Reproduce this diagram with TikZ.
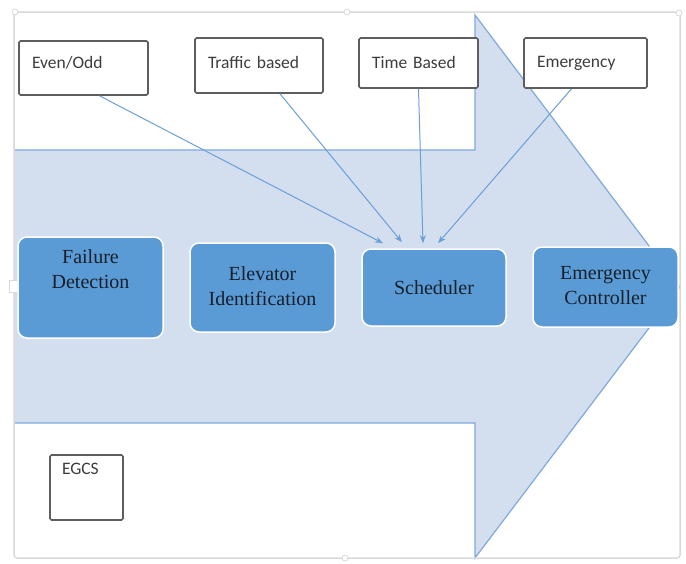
\documentclass[tikz,border=0pt]{standalone}
\usepackage{fontspec}
\setmainfont{Liberation Serif}
\newfontfamily\calfont{Carlito}
\usetikzlibrary{arrows.meta,calc}
\definecolor{arrowfill}{HTML}{D3DEEF}
\definecolor{arrowedge}{HTML}{7FA9DD}
\definecolor{conncol}{HTML}{6A9FD8}
\definecolor{procblue}{HTML}{5B9BD5}
\definecolor{navytext}{HTML}{16202B}
\definecolor{boxgrey}{HTML}{5E5E5E}
\definecolor{textgrey}{HTML}{3C3C3C}
\definecolor{framegrey}{HTML}{D9D9D9}
% lift content by half of #1 inside a vertically centred node
\newcommand\liftby[2]{\raisebox{0pt}[\height][\dimexpr\depth+#1\relax]{#2}}
\begin{document}
\begin{tikzpicture}[x=1pt,y=-1pt,
  optbox/.style={draw=boxgrey, line width=1.6pt, fill=white, rounded corners=1.5pt,
    font=\calfont\fontsize{17.5}{20}\selectfont, text=textgrey, inner xsep=13pt,
    inner ysep=0pt, align=left},
  procbox/.style={fill=procblue, draw=white, line width=1.5pt, rounded corners=9pt,
    font=\fontsize{20}{25}\selectfont, text=navytext, inner sep=0pt},
  conn/.style={draw=conncol, line width=1pt, -{Stealth[length=8pt,width=6pt]}},
  handle/.style={draw=framegrey, fill=white, line width=0.8pt}
]
\useasboundingbox (0,0) rectangle (686,563);
% big arrow
\fill[arrowfill] (15,150) -- (475,150) -- (475,15) -- (680,287) -- (475,558) -- (475,423) -- (15,423) -- cycle;
\draw[arrowedge, line width=1.2pt] (15,150) -- (475,150) -- (475,15) -- (680,287) -- (475,558) -- (475,423) -- (15,423);
% frame
\draw[framegrey, line width=1.5pt, rounded corners=3pt] (14,12) rectangle (680,558);
\draw[handle] (15,12) circle (3pt);
\draw[handle] (347,12) circle (3pt);
\draw[handle] (679,13) circle (3pt);
\draw[handle] (345,558) circle (3pt);
\draw[handle] (9,280) rectangle (17,292);
% option boxes
\node[optbox, minimum width=129pt, minimum height=54pt, text width=103pt] (eo) at (83.5,68) {\liftby{10pt}{Even/Odd}};
\node[optbox, minimum width=128pt, minimum height=55pt, text width=102pt] (tr) at (259,65.5) {\liftby{7pt}{Traffic based}};
\node[optbox, minimum width=119pt, minimum height=50pt, text width=93pt] (tb) at (418.5,63) {\liftby{2pt}{Time Based}};
\node[optbox, minimum width=123pt, minimum height=50pt, text width=97pt] (em) at (585.5,63) {Emergency};
\node[optbox, minimum width=73pt, minimum height=65pt, text width=49pt, inner xsep=12pt] (eg) at (86.5,487.5) {\liftby{38pt}{EGCS}};
% process boxes
\node[procbox, minimum width=145pt, minimum height=101pt] (fd) at (90.5,287.5)
  {\liftby{34pt}{\begin{tabular}{@{}c@{}}Failure\\Detection\end{tabular}}};
\node[procbox, minimum width=145pt, minimum height=89pt] (ei) at (262.5,287.5)
  {\begin{tabular}{@{}c@{}}Elevator\\Identification\end{tabular}};
\node[procbox, minimum width=144pt, minimum height=77pt] (sch) at (434,287.5) {Scheduler};
\node[procbox, minimum width=145pt, minimum height=80pt] (ec) at (605.5,287)
  {\begin{tabular}{@{}c@{}}Emergency\\Controller\end{tabular}};
% connectors
\draw[conn] ([xshift=16pt]eo.south) -- ([xshift=-51pt,yshift=5pt]sch.north);
\draw[conn] ([xshift=21pt]tr.south) -- ([xshift=-32pt,yshift=6pt]sch.north);
\draw[conn] (tb.south) -- ([xshift=-11pt,yshift=5pt]sch.north);
\draw[conn] ([xshift=-14pt]em.south) -- ([xshift=4pt,yshift=5pt]sch.north);
\end{tikzpicture}
\end{document}
